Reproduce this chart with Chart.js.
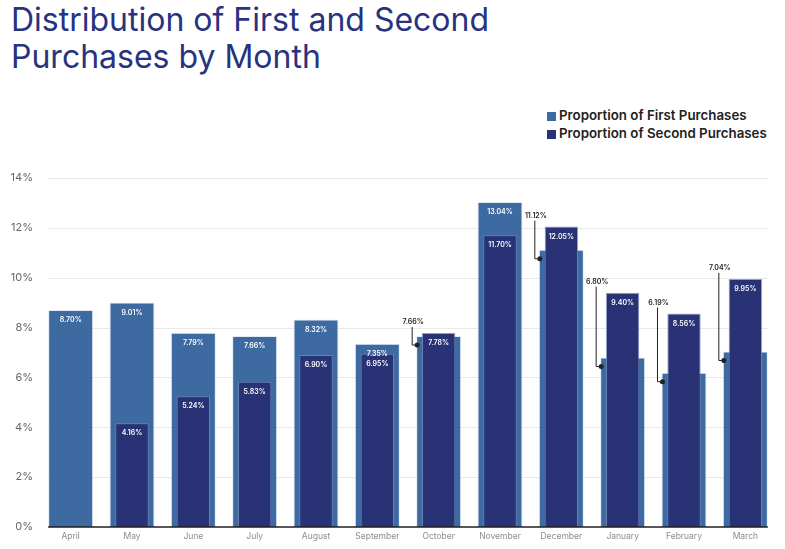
<!DOCTYPE html>
<html>
<head>
<meta charset="utf-8">
<script src="https://cdn.jsdelivr.net/npm/chart.js@4/dist/chart.umd.min.js"></script>
<style>
  html, body { margin: 0; padding: 0; background: #fff; }
  #wrap { position: relative; width: 785px; height: 549px; overflow: hidden; }
  #title { position: absolute; left: 11px; top: 1px; font-family: Inter, "Open Sans", sans-serif; font-size: 32px; line-height: 37px; color: #283380; font-weight: 400; }
  #legend { position: absolute; left: 547px; top: 106px; font-family: Inter, "Open Sans", sans-serif; font-size: 13.3px; font-weight: 600; color: #222; line-height: 18px; }
  #legend span.box { display: inline-block; width: 9px; height: 9px; margin-right: 3px; vertical-align: -0.5px; }
  canvas { position: absolute; left: 0; top: 0; }
</style>
</head>
<body>
<div id="wrap">
  <div id="title">Distribution of First and Second<br>Purchases by Month</div>
  <div id="legend">
    <div><span class="box" style="background:#3d6aa1"></span>Proportion of First Purchases</div>
    <div><span class="box" style="background:#283275"></span>Proportion of Second Purchases</div>
  </div>
  <canvas id="chart" width="785" height="549"></canvas>
</div>
<script>
const months = ["April", "May", "June", "July", "August", "September", "October", "November", "December", "January", "February", "March"];
const firstPurchases = [8.70, 9.01, 7.79, 7.66, 8.32, 7.35, 7.66, 13.04, 11.12, 6.80, 6.19, 7.04];
const secondPurchases = [null, 4.16, 5.24, 5.83, 6.90, 6.95, 7.78, 11.70, 12.05, 9.40, 8.56, 9.95];
const yTicks = [0, 2, 4, 6, 8, 10, 12, 14];

const firstColor = "#3d6aa1";
const secondColor = "#283275";

function fmt(v) {
    return v.toFixed(2) + "%";
}

// gridlines only as wide as the bars reach
const gridPlugin = {
    id: "gridLines",
    beforeDatasetsDraw(chart) {
        const ctx = chart.ctx;
        const bars = chart.getDatasetMeta(0).data;
        const left = bars[0].x - bars[0].width / 2;
        const right = bars[bars.length - 1].x + bars[bars.length - 1].width / 2;
        const y = chart.scales.y;
        ctx.save();
        ctx.strokeStyle = "#e9e9e9";
        ctx.lineWidth = 1;
        yTicks.forEach(t => {
            if (t === 0) return;
            const py = Math.round(y.getPixelForValue(t)) + 0.5;
            ctx.beginPath();
            ctx.moveTo(left, py);
            ctx.lineTo(right, py);
            ctx.stroke();
        });
        ctx.restore();
    },
    afterDatasetsDraw(chart) {
        const ctx = chart.ctx;
        const first = chart.getDatasetMeta(0).data;
        const second = chart.getDatasetMeta(1).data;
        const left = first[0].x - first[0].width / 2;
        const right = first[first.length - 1].x + first[first.length - 1].width / 2;
        const zero = chart.scales.y.getPixelForValue(0);

        ctx.save();
        // baseline
        ctx.strokeStyle = "#1f1f1f";
        ctx.lineWidth = 1.5;
        ctx.beginPath();
        ctx.moveTo(left, zero);
        ctx.lineTo(right, zero);
        ctx.stroke();

        ctx.font = "600 7px Inter, 'Open Sans', sans-serif";
        ctx.textAlign = "center";
        ctx.textBaseline = "middle";

        months.forEach((m, i) => {
            const f = firstPurchases[i];
            const s = secondPurchases[i];
            const fb = first[i];
            // second purchases label
            if (s !== null) {
                ctx.fillStyle = "#ffffff";
                ctx.fillText(fmt(s), second[i].x, second[i].y + 10);
            }
            if (s === null || f > s) {
                ctx.fillStyle = "#ffffff";
                ctx.fillText(fmt(f), fb.x, fb.y + 10);
            } else {
                // callout for a first bar hidden behind the second one
                const lineX = fb.x - fb.width / 2 - 4;
                const labelY = second[i].y - 11;
                const dotX = fb.x - fb.width / 2 + 1;
                const dotY = fb.y + 9;
                ctx.fillStyle = "#222";
                ctx.fillText(fmt(f), lineX + 1, labelY);
                ctx.strokeStyle = "#222";
                ctx.lineWidth = 1;
                ctx.beginPath();
                ctx.moveTo(lineX, labelY + 5);
                ctx.lineTo(lineX, dotY);
                ctx.lineTo(dotX, dotY);
                ctx.stroke();
                ctx.beginPath();
                ctx.arc(dotX, dotY, 2.5, 0, Math.PI * 2);
                ctx.fill();
            }
        });
        ctx.restore();
    }
};

const ctx = document.getElementById("chart").getContext("2d");
new Chart(ctx, {
    type: "bar",
    data: {
        labels: months,
        datasets: [
            {
                label: "Proportion of First Purchases",
                data: firstPurchases,
                backgroundColor: firstColor,
                borderColor: "rgba(220,230,242,0.8)",
                borderWidth: 1,
                grouped: false,
                categoryPercentage: 1,
                barPercentage: 0.734,
                order: 2
            },
            {
                label: "Proportion of Second Purchases",
                data: secondPurchases,
                backgroundColor: secondColor,
                borderColor: "rgba(120,135,185,0.8)",
                borderWidth: 1,
                grouped: false,
                categoryPercentage: 1,
                barPercentage: 0.544,
                order: 1
            }
        ]
    },
    options: {
        responsive: false,
        animation: false,
        layout: { padding: { top: 178, right: 9, left: 0, bottom: 0 } },
        plugins: {
            legend: { display: false },
            tooltip: { enabled: false }
        },
        scales: {
            x: {
                grid: { display: false, drawTicks: false },
                border: { display: false },
                ticks: {
                    color: "#8c8c8c",
                    font: { family: "Inter, 'Open Sans', sans-serif", size: 8.5 },
                    padding: 4,
                    maxRotation: 0,
                    autoSkip: false
                },
                afterFit(scale) { scale.height = 22; }
            },
            y: {
                min: 0,
                max: 14,
                grid: { display: false, drawTicks: false },
                border: { display: false },
                ticks: {
                    stepSize: 2,
                    color: "#666",
                    padding: 7,
                    font: { family: "Inter, 'Open Sans', sans-serif", size: 11 },
                    callback: v => v + "%"
                },
                afterFit(scale) { scale.width = 40; }
            }
        }
    },
    plugins: [gridPlugin]
});
</script>
</body>
</html>
